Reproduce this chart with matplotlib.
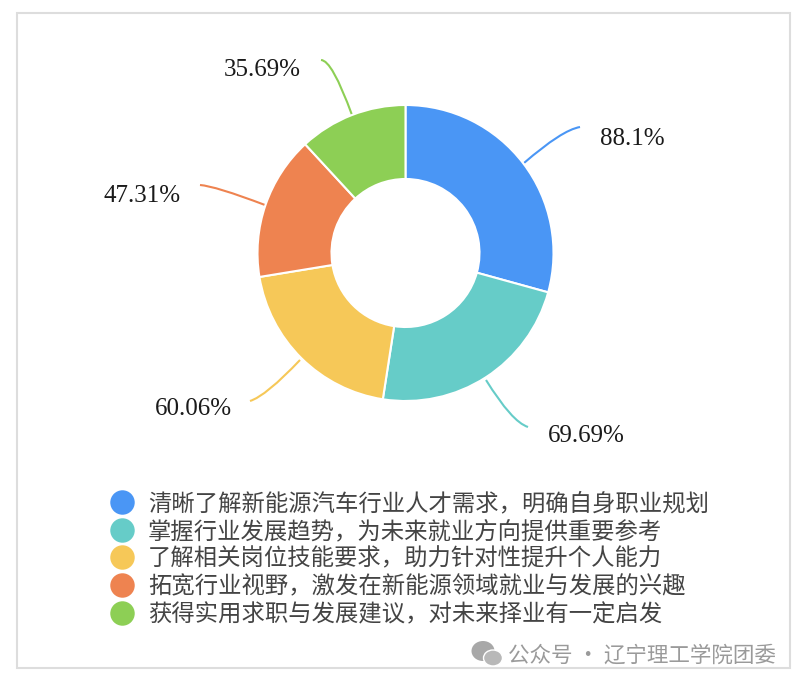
import matplotlib
matplotlib.use('Agg')
import matplotlib.pyplot as plt
from matplotlib.patches import Rectangle, PathPatch, Ellipse
from matplotlib.path import Path

plt.rcParams['font.family'] = ['Noto Sans CJK SC', 'DejaVu Sans']

values = [88.1, 69.69, 60.06, 47.31, 35.69]
value_labels = ['88.1%', '69.69%', '60.06%', '47.31%', '35.69%']
colors = ['#4A96F5', '#66CCC8', '#F6C858', '#EE8350', '#8DCF55']
legend_labels = ['清晰了解新能源汽车行业人才需求，明确自身职业规划',
                 '掌握行业发展趋势，为未来就业方向提供重要参考',
                 '了解相关岗位技能要求，助力针对性提升个人能力',
                 '拓宽行业视野，激发在新能源领域就业与发展的兴趣',
                 '获得实用求职与发展建议，对未来择业有一定启发']

W, H = 800, 686
fig = plt.figure(figsize=(W / 100, H / 100), dpi=100)
bg = fig.add_axes([0, 0, 1, 1])
bg.set_xlim(0, W)
bg.set_ylim(H, 0)
bg.axis('off')
bg.add_patch(Rectangle((17, 13), 773, 655, fill=False, ec='#DDDDDD', lw=1.5))

# pie axes: centre (405.5, 253), outer radius 148 px
ax = fig.add_axes([(405.5 - 160) / W, 1 - (253 + 160) / H, 320 / W, 320 / H])
ax.pie(values, colors=colors, startangle=90, counterclock=False, radius=148,
       wedgeprops=dict(width=74, edgecolor='white', linewidth=1.5))
# pie resets the limits, so these have to come after it
ax.set_xlim(-160, 160)
ax.set_ylim(-160, 160)
ax.axis('off')

# leader curves (start, control, end) and labels, in pixels
leaders = [[(524, 163), (562, 130), (580, 127)],
           [(486, 380), (512, 422), (528, 427)],
           [(300, 360), (266, 396), (250, 401)],
           [(265, 205), (215, 186), (200, 185)],
           [(352, 115), (332, 60), (321, 60)]]
text_pos = [(632, 139), (586, 436), (193, 409), (142, 196), (262, 70)]
for i in range(len(values)):
    curve = Path(leaders[i], [Path.MOVETO, Path.CURVE3, Path.CURVE3])
    bg.add_patch(PathPatch(curve, fill=False, ec=colors[i], lw=1.5, zorder=5))
    bg.text(text_pos[i][0], text_pos[i][1], value_labels[i], fontsize=18,
            family='Liberation Serif', ha='center', va='center', color='#1A1A1A')

# legend
legend_y = [502, 530, 557, 585, 613]
for i in range(len(legend_labels)):
    bg.scatter([122], [legend_y[i]], s=310, color=colors[i], zorder=5, linewidths=0)
    bg.text(148, legend_y[i] + 2, legend_labels[i], fontsize=16.8, ha='left', va='center', color='#444444')

# watermark, icon is two bubbles
bg.add_patch(Ellipse((483, 651), 23, 20, color='#A8A8A8', lw=0))
bg.add_patch(Ellipse((493, 658), 19, 16, fc='#B8B8B8', ec='white', lw=1))
bg.text(508, 656, '公众号 · 辽宁理工学院团委', fontsize=15.5, ha='left', va='center', color='#9A9A9A')

fig.savefig('out.png', dpi=100)
